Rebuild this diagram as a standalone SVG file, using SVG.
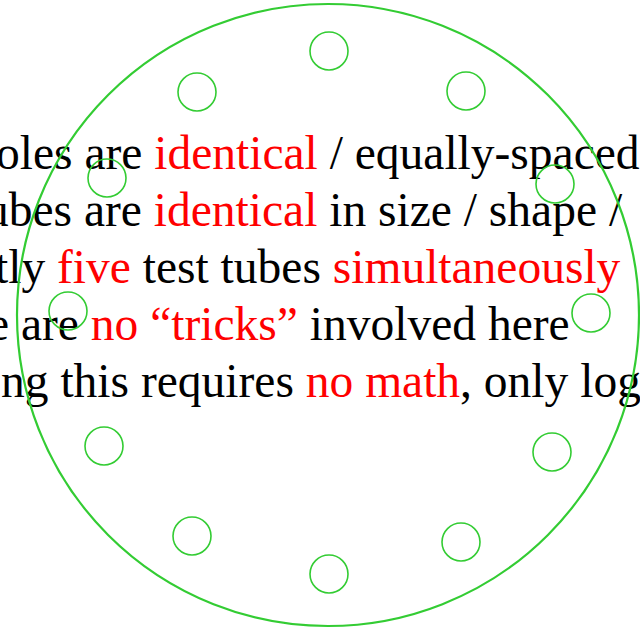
<svg xmlns="http://www.w3.org/2000/svg" width="640" height="628" viewBox="0 0 640 628">
<style>
.t{font-family:"Liberation Serif","Times New Roman",serif;font-size:47.5px;fill:#000}
.r{fill:#ff0000}
.hole{fill:none;stroke:#33cc33;stroke-width:1.6}
.rim{fill:none;stroke:#33cc33;stroke-width:2.2}
</style>
<rect width="640" height="628" fill="#fff"/>
<g id="text">
<text class="t" x="-4" y="169">oles are <tspan class="r">identical</tspan> / equally-spaced</text>
<text class="t" x="-15" y="226">ubes are <tspan class="r">identical</tspan> in size / shape / </text>
<text class="t" x="-5" y="283">tly <tspan class="r">five</tspan> test tubes <tspan class="r">simultaneously</tspan></text>
<text class="t" x="-12" y="340">e are <tspan class="r">no “tricks”</tspan> involved here</text>
<text class="t" x="1" y="397">ng this requires <tspan class="r">no math</tspan>, only log</text>
</g>
<g id="rack"><circle class="rim" cx="328" cy="315" r="311"/></g>
<g id="holes">
<circle id="h1" class="hole" cx="329" cy="51" r="19"/>
<circle id="h2" class="hole" cx="466" cy="91" r="19"/>
<circle id="h3" class="hole" cx="555" cy="184" r="19"/>
<circle id="h4" class="hole" cx="591" cy="313" r="19"/>
<circle id="h5" class="hole" cx="552" cy="452" r="19"/>
<circle id="h6" class="hole" cx="461" cy="542" r="19"/>
<circle id="h7" class="hole" cx="329" cy="574" r="19"/>
<circle id="h8" class="hole" cx="192" cy="536" r="19"/>
<circle id="h9" class="hole" cx="104" cy="446" r="19"/>
<circle id="h10" class="hole" cx="68" cy="311" r="19"/>
<circle id="h11" class="hole" cx="107" cy="178" r="19"/>
<circle id="h12" class="hole" cx="197" cy="92" r="19"/>
</g>
</svg>
